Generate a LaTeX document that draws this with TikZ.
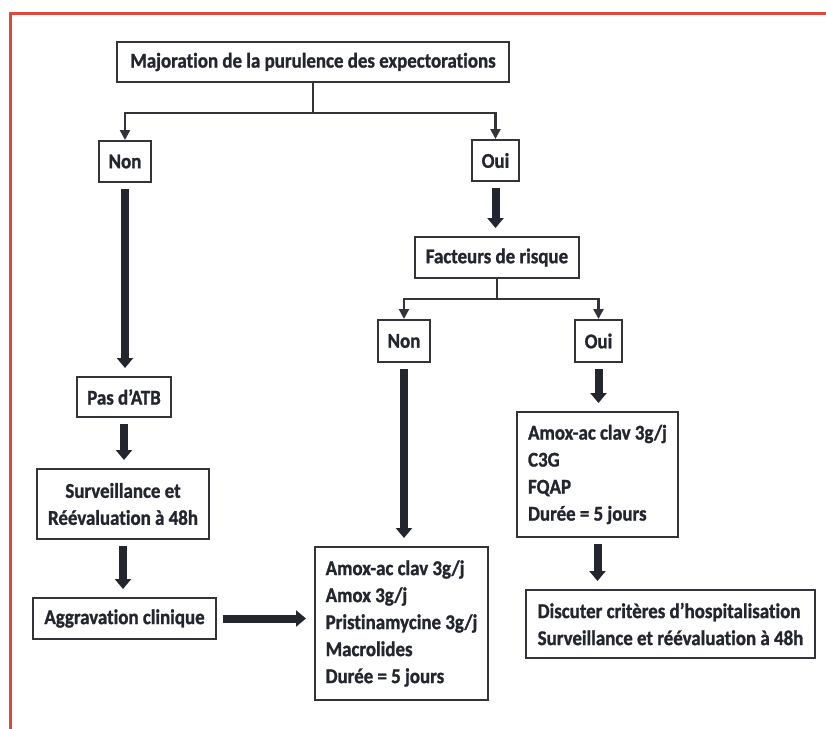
\documentclass[tikz,border=0pt]{standalone}
\usepackage{fontspec}
\setmainfont{Carlito}[Ligatures=NoCommon,FakeStretch=0.9,FakeBold=1.2]
\usetikzlibrary{arrows.meta}
\definecolor{frame}{RGB}{222,72,62}
\definecolor{ink}{RGB}{35,38,46}
\definecolor{edge}{RGB}{50,52,58}

\begin{document}
\begin{tikzpicture}[x=0.5pt,y=-0.5pt,
		font=\fontsize{10.5}{13.5}\selectfont\bfseries,
		box/.style={draw=edge,line width=1pt,text=ink,inner sep=2pt,align=left},
		link/.style={draw=edge,line width=1.2pt,-{Triangle[width=5pt,length=5pt]}},
		flow/.style={draw=ink,line width=4pt,-{Triangle[width=8pt,length=5pt]},shorten <=3pt,shorten >=4pt}]
	\useasboundingbox (0,0) rectangle (826,729);
	\draw[frame,line width=1.5pt] (10,729) -- (10,13) -- (826,13);
	\node[box,minimum width=196pt,minimum height=20pt] (top) at (313,62) {Majoration de la purulence des expectorations};
	\node[box,minimum width=26pt,minimum height=20.5pt] (non) at (125,161.5) {Non};
	\node[box,minimum width=23.5pt,minimum height=20.5pt] (oui) at (495.5,160.5) {Oui};
	\node[box,minimum width=82pt,minimum height=20.5pt] (risque) at (497,257.5) {Facteurs de risque};
	\node[box,minimum width=26pt,minimum height=21pt] (nonr) at (404,341) {Non};
	\node[box,minimum width=23.5pt,minimum height=21pt] (ouir) at (598.5,341) {Oui};
	\node[box,minimum width=47pt,minimum height=20pt] (pasatb) at (124,397) {Pas d’ATB};
	\node[box,align=center,minimum width=86pt,minimum height=35pt] (surv) at (123,504) {Surveillance et\\Réévaluation à 48h};
	\node[box,minimum width=91.5pt,minimum height=20.5pt] (aggr) at (124.5,618.5) {Aggravation clinique};
	\node[box,minimum width=86.5pt,minimum height=76.5pt] (ttnon) at (401.5,623.5) {Amox-ac clav 3g/j\\Amox 3g/j\\Pristinamycine 3g/j\\Macrolides\\Durée = 5 jours};
	\node[box,minimum width=80.5pt,minimum height=62.5pt] (ttoui) at (597.5,474.5) {Amox-ac clav 3g/j\\C3G\\FQAP\\Durée = 5 jours};
	\node[box,minimum width=144.5pt,minimum height=34pt] (hosp) at (670.5,624) {Discuter critères d’hospitalisation\\Surveillance et réévaluation à 48h};
	% branches
	\draw[edge,line width=1.2pt] (top.south) -- ++(0,30) coordinate (j1);
	\draw[link] (j1) -| (non.north);
	\draw[link] (j1) -| (oui.north);
	\draw[edge,line width=1.2pt] (risque.south) -- ++(0,20) coordinate (j2);
	\draw[link] (j2) -| (nonr.north);
	\draw[link] (j2) -| (ouir.north);
	% thick arrows
	\foreach \from/\to in {non/pasatb,pasatb/surv,surv/aggr,oui/risque,nonr/ttnon,ouir/ttoui,ttoui/hosp}
		\draw[flow] (\from.south) -- (\from.south |- \to.north);
	\draw[flow] (aggr.east) -- (aggr.east -| ttnon.west);
\end{tikzpicture}
\end{document}
